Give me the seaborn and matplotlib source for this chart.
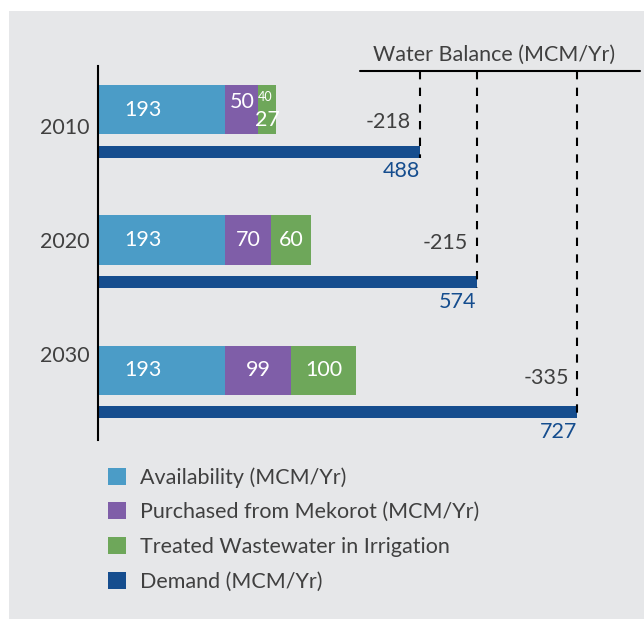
import matplotlib
matplotlib.use('Agg')
import matplotlib.pyplot as plt
from matplotlib.patches import Patch, Rectangle
import seaborn as sns
import pandas as pd

# data
years = ['2010', '2020', '2030']
availability = [193, 193, 193]
mekorot = [50, 70, 99]
wastewater = [27, 60, 100]
demand = [488, 574, 727]
balance = ['-218', '-215', '-335']
extra_label = '40'   # small extra label shown on the 2010 bar
legend_labels = ['Availability (MCM/Yr)', 'Purchased from Mekorot (MCM/Yr)',
                 'Treated Wastewater in Irrigation', 'Demand (MCM/Yr)']

c_avail = '#4b9cc7'
c_mek = '#7f5ea8'
c_ww = '#6ea75a'
c_dem = '#154d8e'
c_text = '#404040'
bg = '#e6e7e9'
fs = 15.5

sns.set_theme(style='white')
plt.rcParams['font.family'] = ['Lato', 'DejaVu Sans']

df = pd.DataFrame({'year': years, 'avail': availability, 'mek': mekorot, 'ww': wastewater})
df['s2'] = df['avail'] + df['mek']
df['s3'] = df['s2'] + df['ww']

fig = plt.figure(figsize=(6.44, 6.19), dpi=100)
fig.patch.set_facecolor('white')
fig.patches.append(Rectangle((9 / 644, 0), 1, (619 - 11) / 619, transform=fig.transFigure,
                             facecolor=bg, edgecolor='none', zorder=-10))
ax = fig.add_axes([98 / 644, 1 - 440 / 619, (644 - 98) / 644, (440 - 66) / 619])
ax.set_facecolor('none')

bar_h = 0.377
# layered cumulative bars -> stacked look
sns.barplot(data=df, y='year', x='s3', color=c_ww, width=bar_h, saturation=1, linewidth=0, ax=ax, orient='h')
sns.barplot(data=df, y='year', x='s2', color=c_mek, width=bar_h, saturation=1, linewidth=0, ax=ax, orient='h')
sns.barplot(data=df, y='year', x='avail', color=c_avail, width=bar_h, saturation=1, linewidth=0, ax=ax, orient='h')

dem_off = 0.323
dem_h = 0.092
pos = list(range(len(years)))
ax.barh([p + dem_off for p in pos], demand, height=dem_h, color=c_dem, linewidth=0)

ax.set_xlim(0, 828)
ax.set_ylim(2.538, -0.338)

bal_off = [0.09, 0.02, 0.065]

# segment labels
for i, p in enumerate(pos):
    ax.text(availability[i] * 0.35, p, str(availability[i]), color='white', fontsize=fs,
            ha='center', va='center')
    if i == 0:
        ax.text(availability[i] + mekorot[i] / 2, p - 0.06, str(mekorot[i]), color='white',
                fontsize=fs, ha='center', va='center')
        ax.text(df['s2'][i] - 1, p - 0.1, extra_label, color='white', fontsize=9,
                ha='left', va='center')
        ax.text(df['s2'][i] + wastewater[i] / 2, p + 0.08, str(wastewater[i]), color='white',
                fontsize=fs, ha='center', va='center')
    else:
        ax.text(availability[i] + mekorot[i] / 2, p, str(mekorot[i]), color='white',
                fontsize=fs, ha='center', va='center')
        ax.text(df['s2'][i] + wastewater[i] / 2, p, str(wastewater[i]), color='white',
                fontsize=fs, ha='center', va='center')
    # demand value under bar end
    ax.text(demand[i], p + dem_off + 0.15, str(demand[i]), color=c_dem, fontsize=fs,
            ha='right', va='center')
    # balance
    ax.text(demand[i] - 13, p + bal_off[i], balance[i], color=c_text, fontsize=fs,
            ha='right', va='center')

# water balance header + dashed drops
line_y = -0.3
ax.plot([398, 822], [line_y, line_y], color='black', lw=1.5, clip_on=False)
ax.text(600, line_y - 0.125, 'Water Balance (MCM/Yr)', color=c_text, fontsize=fs,
        ha='center', va='center', clip_on=False)
ax.vlines(demand, line_y, [p + dem_off + dem_h / 2 for p in pos], colors='black',
          linestyles=(0, (4, 4)), lw=1.5)

# year labels
ax.set_yticks([0.123, 1.0, 1.877])
ax.set_yticklabels(years, fontsize=fs, color=c_text)
ax.tick_params(axis='y', length=0, pad=6)
ax.set_xticks([])
ax.set_xlabel('')
ax.set_ylabel('')
for s in ['top', 'right', 'bottom']:
    ax.spines[s].set_visible(False)
ax.spines['left'].set_color('black')
ax.spines['left'].set_linewidth(1.5)

handles = [Patch(facecolor=c, edgecolor='none') for c in [c_avail, c_mek, c_ww, c_dem]]
fig.legend(handles, legend_labels, loc='upper left', bbox_to_anchor=(108 / 644, 1 - 467 / 619),
           frameon=False, fontsize=fs, handlelength=0.85, handleheight=0.85,
           handletextpad=0.65, labelspacing=0.68, borderpad=0, borderaxespad=0,
           labelcolor=c_text)

fig.savefig('out.png', dpi=100)
